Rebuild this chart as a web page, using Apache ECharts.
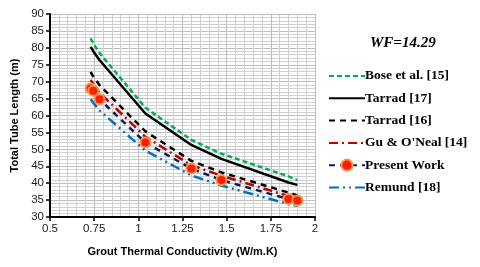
<!DOCTYPE html>
<html><head><meta charset="utf-8">
<script src="https://cdn.jsdelivr.net/npm/echarts@6/dist/echarts.min.js"></script>
<style>html,body{margin:0;padding:0;background:#fff}#c{width:480px;height:267px}</style>
</head><body><div id="c"></div>
<script>
const xValues = [0.73, 0.745, 0.78, 1.04, 1.3, 1.47, 1.85, 1.9];
const bose = [82.8, 81.3, 78.5, 62.3, 52.8, 48.7, 42.0, 40.9];
const tarrad17 = [80.3, 79.0, 76.4, 60.6, 51.3, 47.2, 40.2, 39.5];
const tarrad16 = [72.9, 71.5, 69.0, 55.3, 46.6, 43.2, 37.2, 36.4];
const guONeal = [70.5, 69.3, 66.8, 53.7, 45.3, 42.2, 36.2, 35.5];
const presentWork = [68.0, 67.3, 64.8, 52.0, 44.3, 40.9, 35.3, 34.9];
const remund = [64.8, 63.8, 61.5, 49.6, 42.3, 39.3, 33.8, 33.3];
const names = ['Bose et al. [15]', 'Tarrad [17]', 'Tarrad [16]', "Gu & O'Neal [14]", 'Present Work', 'Remund [18]'];

const pair = arr => arr.map((v, i) => [xValues[i], v]);
const chart = echarts.init(document.getElementById('c'), null, {renderer: 'canvas'});
const line = (name, data, color, type, width, extra) => Object.assign({
  name, type: 'line', data: pair(data), symbol: 'none', smooth: false,
  lineStyle: {color, width, type}, itemStyle: {color}, z: 3
}, extra || {});

chart.setOption({
  animation: false,
  title: {text: 'WF=14.29', left: 365, top: 31,
    textStyle: {fontFamily: 'Liberation Serif', fontStyle: 'italic', fontWeight: 'bold', fontSize: 15, color: '#000'}},
  grid: {left: 50, right: 165, top: 14, bottom: 50},
  legend: {orient: 'vertical', left: 323, top: 64, itemWidth: 36, itemHeight: 14, itemGap: 8.3,
    textStyle: {fontFamily: 'Liberation Serif', fontWeight: 'bold', fontSize: 13.5, color: '#000', padding: [0,0,0,-5]},
    data: names.map(n => n === 'Present Work' ? {name: n} : {name: n, itemStyle: {opacity: 0}})},
  xAxis: {type: 'value', min: 0.5, max: 2, interval: 0.25,
    name: 'Grout Thermal Conductivity (W/m.K)', nameLocation: 'middle', nameGap: 29,
    nameTextStyle: {fontFamily: 'Liberation Sans', fontWeight: 'bold', fontSize: 11, color: '#000'},
    axisLine: {show: true, onZero: false, lineStyle: {color: '#000', width: 2}},
    axisTick: {show: true, length: 4, lineStyle: {color: '#000', width: 1.5}},
    axisLabel: {fontFamily: 'Liberation Sans', fontSize: 11.5, color: '#222', margin: 6},
    splitLine: {show: true, lineStyle: {color: '#bdbdbd', width: 1}},
    minorTick: {show: false, splitNumber: 5},
    minorSplitLine: {show: true, lineStyle: {color: '#d0d0d0', width: 1}}},
  yAxis: {type: 'value', min: 30, max: 90, interval: 5,
    name: 'Total Tube Length (m)', nameLocation: 'middle', nameGap: 30,
    nameTextStyle: {fontFamily: 'Liberation Sans', fontWeight: 'bold', fontSize: 11, color: '#000'},
    axisLine: {show: true, lineStyle: {color: '#000', width: 2}},
    axisTick: {show: true, length: 4, lineStyle: {color: '#000', width: 1.5}},
    axisLabel: {fontFamily: 'Liberation Sans', fontSize: 11.5, color: '#222', margin: 6},
    splitLine: {show: true, lineStyle: {color: '#bdbdbd', width: 1}},
    minorTick: {show: false, splitNumber: 5},
    minorSplitLine: {show: true, lineStyle: {color: '#d0d0d0', width: 1}}},
  series: [
    line(names[0], bose, '#00b050', [5, 3], 2.5),
    line(names[1], tarrad17, '#000000', 'solid', 2.5),
    line(names[2], tarrad16, '#000000', [6, 5], 2.5),
    line(names[3], guONeal, '#c00000', [9, 4, 2, 4], 2.5),
    line(names[4], presentWork, '#002060', [6, 5], 2.5, {
      symbol: 'circle', symbolSize: 10, showSymbol: true,
      itemStyle: {color: '#ff1a00', borderColor: '#f79646', borderWidth: 2}, z: 4}),
    line(names[5], remund, '#0070c0', [10, 4, 2, 4, 2, 4], 2.5)
  ]
});
</script></body></html>
